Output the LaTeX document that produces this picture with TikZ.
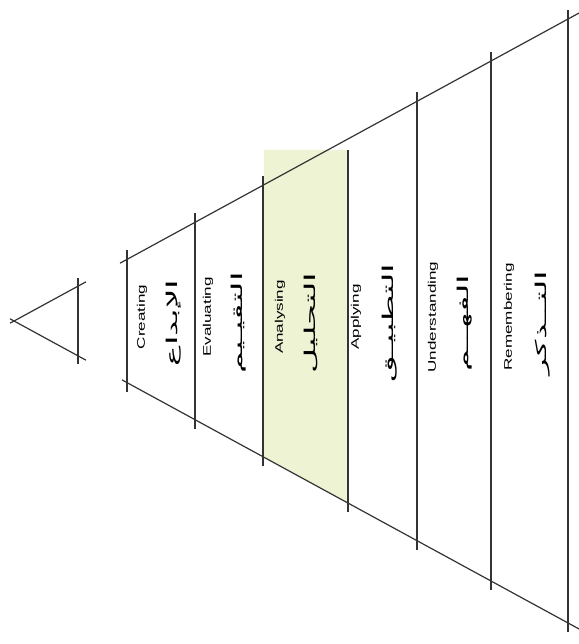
\documentclass[tikz,border=0pt]{standalone}
\usepackage{fontspec}
\setmainfont{Liberation Sans}
\newfontfamily\arabicfont[Script=Arabic]{DejaVu Sans}
\TeXXeTstate=1
\usetikzlibrary{calc}
\definecolor{hlgreen}{RGB}{238,243,212}

\begin{document}
\begin{tikzpicture}[x=1pt,y=-1pt,
  edge/.style={black!80,line width=1.2pt},
  entext/.style={rotate=90,xscale=1.55,inner sep=0pt,font=\fontsize{11}{12}\selectfont},
  artext/.style={rotate=90,xscale=2.3,inner sep=0pt,font=\arabicfont\fontsize{15}{17}\selectfont}]
\useasboundingbox (0,0) rectangle (578,644);
\coordinate (apex) at (14,321);
% highlighted level
\fill[hlgreen] (264,150) -- (348,150) -- (348,503) -- (264,457) -- cycle;
% small triangle
\coordinate (st1) at (86,281.8);
\coordinate (st2) at (86,360.2);
\draw[edge] ($(apex)+(-4,2.2)$) -- (st1);
\draw[edge] ($(apex)+(-4,-2.2)$) -- (st2);
\draw[edge] (78,278) -- (78,364);
% big pyramid sides
\coordinate (top1) at (120,263.2);
\coordinate (top2) at (580,12.5);
\coordinate (bot1) at (122,379.9);
\coordinate (bot2) at (580,629.5);
\draw[edge] (top1) -- (top2);
\draw[edge] (bot1) -- (bot2);
\foreach \x in {127,195,263,417,491,568} {
   \draw[edge] (\x,{321-0.545*(\x-14)-9}) -- (\x,{321+0.545*(\x-14)+9});
}
\draw[edge] (348,150) -- (348,512);
% labels
\foreach \x/\e in %
{142/Creating,208/Evaluating,280/Analysing,356/Applying,433/Understanding,509/Remembering} {
   \node[entext] (en\x) at (\x,317) {\e};
}
\foreach \x/\a in %
{174/الإبداع,239/التقيـيم,311/التحليل,390/التطبيـق,465/الفهــم,543/التــذكر} {
   \node[artext] (ar\x) at (\x,323) {\beginR\a\endR};
}
\end{tikzpicture}
\end{document}
